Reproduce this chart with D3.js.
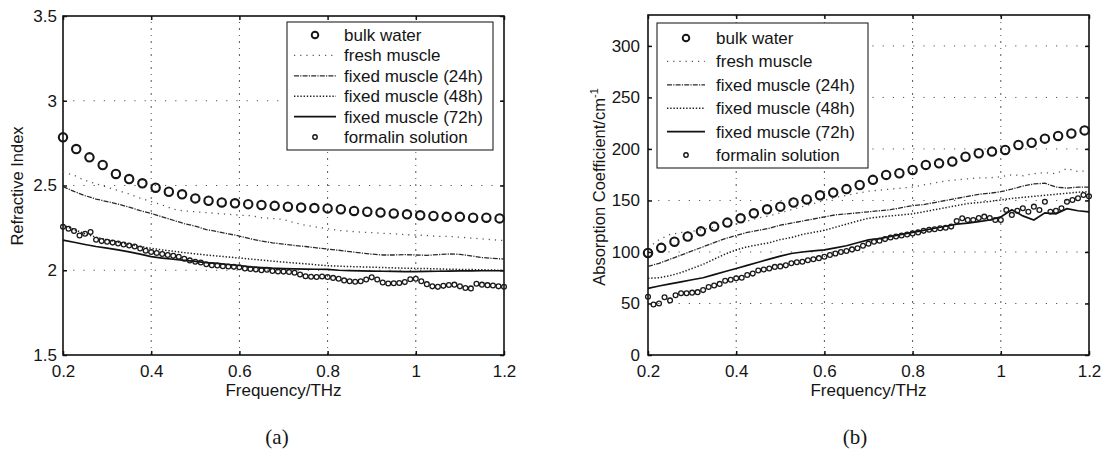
<!DOCTYPE html>
<html><head><meta charset="utf-8">
<script src="https://cdn.jsdelivr.net/npm/d3@7"></script>
<style>
body{margin:0;background:#fff;}
svg text{font-family:"Liberation Sans",Arial,sans-serif;fill:#151515;}
svg text.caption{font-family:"Liberation Serif","Times New Roman",serif;}
</style></head>
<body><svg id="chart" width="1106" height="452"></svg>
<script>
// ---------------- data ----------------
const seriesNames = ["bulk water","fresh muscle","fixed muscle (24h)","fixed muscle (48h)","fixed muscle (72h)","formalin solution"];
const xTicks = [0.2,0.4,0.6,0.8,1.0,1.2];
const xTickLabels = ["0.2","0.4","0.6","0.8","1","1.2"];
const yTicksA = [1.5,2,2.5,3,3.5];
const yTickLabelsA = ["1.5","2","2.5","3","3.5"];
const yTicksB = [0,50,100,150,200,250,300];
const yTickLabelsB = ["0","50","100","150","200","250","300"];

// bulk water: 34 samples from 0.2 to 1.19 THz
const bulkA = [2.784,2.715,2.666,2.621,2.568,2.538,2.513,2.487,2.463,2.448,2.424,2.41,2.40,2.395,2.39,2.385,2.38,2.375,2.37,2.367,2.365,2.36,2.35,2.345,2.34,2.335,2.33,2.324,2.32,2.315,2.315,2.31,2.31,2.306];
const bulkB = [99,104,110,115,120,124.6,128.5,132.7,137.5,141.4,144,148,151,155,157.6,161,165,170,174.8,176.4,179.6,184.5,186,187.7,192.5,195.8,197.4,199,203.9,206,210,212.6,215,218];

// line series: 41 samples from 0.2 to 1.2 THz
const freshA = [2.58,2.56,2.53,2.51,2.49,2.47,2.45,2.425,2.405,2.385,2.36,2.35,2.345,2.34,2.335,2.33,2.325,2.322,2.31,2.305,2.30,2.28,2.265,2.255,2.245,2.235,2.23,2.225,2.222,2.218,2.215,2.21,2.208,2.205,2.20,2.20,2.195,2.19,2.185,2.18,2.175];
const fixed24A = [2.493,2.465,2.44,2.42,2.405,2.39,2.372,2.352,2.335,2.315,2.295,2.275,2.26,2.24,2.228,2.215,2.202,2.185,2.172,2.162,2.154,2.146,2.14,2.132,2.125,2.118,2.11,2.102,2.095,2.09,2.09,2.092,2.09,2.088,2.092,2.096,2.094,2.085,2.075,2.07,2.066];
const fixed48A = [2.267,2.24,2.215,2.195,2.18,2.165,2.152,2.14,2.13,2.12,2.112,2.104,2.097,2.09,2.084,2.078,2.072,2.066,2.06,2.054,2.048,2.043,2.038,2.032,2.027,2.024,2.022,2.02,2.018,2.016,2.014,2.012,2.011,2.01,2.008,2.006,2.005,2.004,2.003,2.001,2.0];
const fixed72A = [2.178,2.165,2.152,2.14,2.13,2.12,2.108,2.095,2.08,2.072,2.065,2.058,2.052,2.045,2.04,2.034,2.028,2.02,2.016,2.012,2.01,2.008,2.007,2.006,2.005,2.0,1.998,1.996,1.995,1.994,1.993,1.992,1.992,1.993,1.994,1.995,1.996,1.996,1.997,1.997,1.997];

const freshB = [104,112,117,119,120,122,124,125,127,130,133,135,138,141,144,147,150,153,155,157,159,160,161,162,163,165,167,169,170,171,172,172,173,175,174,176,177,176,181,178,179];
const fixed24B = [86,89,93,97,101,105,109,113,116,119,121,123,126,128,130,132,134,136,137,138,139,140,141,143,145,146,148,150,152,154,156,157,158.5,161,164,166,166.7,163,162,163,163];
const fixed48B = [74.4,75,77,80,84,88,93,98,102,105,107,109,112,114,117,119,121,124,127,130,132.7,134,135,136,137,139,141,143,145,147,148,149,150.5,152,153,154,155,156,157,158,158.5];
const fixed72B = [64.7,67,69,71,73,75,78,81,84,87,90,93,96,98.5,100,101,102,104,106,109,111.7,113,115,117,119,121,123,125,127,128,129.5,131,134,141,135,131,138,137,142,140,139];

// formalin: 81 samples from 0.2 to 1.2 THz
const formalinA = [2.257,2.245,2.232,2.205,2.215,2.225,2.18,2.172,2.168,2.163,2.158,2.152,2.146,2.14,2.128,2.115,2.108,2.102,2.096,2.09,2.085,2.08,2.068,2.058,2.05,2.046,2.035,2.03,2.028,2.024,2.022,2.02,2.018,2.01,2.008,2.004,2.0,2.003,1.996,1.993,1.992,1.99,1.985,1.975,1.965,1.962,1.96,1.963,1.96,1.955,1.95,1.94,1.935,1.932,1.935,1.945,1.958,1.945,1.928,1.922,1.923,1.925,1.93,1.947,1.95,1.935,1.918,1.905,1.902,1.908,1.913,1.915,1.905,1.895,1.893,1.92,1.915,1.912,1.91,1.905,1.903];
const formalinB = [56.6,49,50,56,53,58,60,60,60.5,61,63,66,67.5,69,72,73,74.4,75,77.7,79,82,83,84,85.5,86,87,89,90,90.5,92,93,94,95.4,97,98.5,100,101,102.5,103.6,106,108,110,111,112.5,114,115,116,117,118,119,120.5,121.5,122,123,123.5,124.6,130,132.7,131,131,133,134.3,133,131,131,140.8,136,140,142.4,139.1,144,140.8,148.8,139.1,140,142.4,148.8,150.5,152.1,155.3,154];

// ---------------- drawing ----------------
const svg = d3.select("#chart");
const sampled = (vals, f0, f1) => vals.map((v,i)=>({f: f0 + (f1-f0)*i/(vals.length-1), v}));

const styles = {
  fresh:  {stroke:"#555", width:1.3, dash:"1.2,5"},
  f24:    {stroke:"#2a2a2a", width:1.3, dash:"5,1.2,1.2,1.2"},
  f48:    {stroke:"#222", width:1.5, dash:"1.4,1.8"},
  f72:    {stroke:"#111", width:1.7, dash:null}
};

function panel(cfg){
  const g = svg.append("g");
  const x = d3.scaleLinear().domain([0.2,1.2]).range([cfg.x0,cfg.x1]);
  const y = d3.scaleLinear().domain(cfg.yDomain).range([cfg.yb,cfg.yt]);

  // grid
  const grid = g.append("g").attr("stroke","#555").attr("stroke-width",1).attr("stroke-dasharray","2,5,1,5");
  grid.selectAll("line.gx").data(xTicks.slice(1,-1)).join("line")
    .attr("x1",d=>x(d)).attr("x2",d=>x(d)).attr("y1",cfg.yb).attr("y2",cfg.yt);
  grid.selectAll("line.gy").data(cfg.yTicks.filter(t=>t>cfg.yDomain[0] && t<cfg.yDomain[1])).join("line")
    .attr("class","gy").attr("y1",d=>y(d)).attr("y2",d=>y(d)).attr("x1",cfg.x0).attr("x2",cfg.x1)
    .attr("stroke-dasharray","1.2,9");

  // axes (ticks inward on all four sides)
  const fmtX = d => xTickLabels[xTicks.indexOf(d)];
  const fmtY = d => cfg.yTickLabels[cfg.yTicks.indexOf(d)];
  const axB = g.append("g").attr("transform",`translate(0,${cfg.yb})`)
    .call(d3.axisBottom(x).tickValues(xTicks).tickFormat(fmtX).tickSizeInner(-4).tickSizeOuter(0).tickPadding(10));
  const axT = g.append("g").attr("transform",`translate(0,${cfg.yt})`)
    .call(d3.axisTop(x).tickValues(xTicks).tickFormat("").tickSizeInner(-4).tickSizeOuter(0));
  const axL = g.append("g").attr("transform",`translate(${cfg.x0},0)`)
    .call(d3.axisLeft(y).tickValues(cfg.yTicks).tickFormat(fmtY).tickSizeInner(-4).tickSizeOuter(0).tickPadding(cfg.ypad));
  const axR = g.append("g").attr("transform",`translate(${cfg.x1},0)`)
    .call(d3.axisRight(y).tickValues(cfg.yTicks).tickFormat("").tickSizeInner(-4).tickSizeOuter(0));
  [axB,axT,axL,axR].forEach(a=>{
    a.select(".domain").remove();
    a.selectAll(".tick line").attr("stroke","#111").attr("stroke-width",1.5);
    a.selectAll("text").attr("font-size",17).attr("fill","#151515");
  });
  g.append("rect").attr("x",cfg.x0).attr("y",cfg.yt).attr("width",cfg.x1-cfg.x0).attr("height",cfg.yb-cfg.yt)
    .attr("fill","none").attr("stroke","#111").attr("stroke-width",1.6);

  // lines
  const line = d3.line().x(d=>x(d.f)).y(d=>y(d.v));
  const drawLine = (vals, st) => g.append("path").datum(sampled(vals,0.2,1.2))
    .attr("d",line).attr("fill","none").attr("stroke",st.stroke).attr("stroke-width",st.width)
    .attr("stroke-dasharray",st.dash);
  drawLine(cfg.fresh, styles.fresh);
  drawLine(cfg.f24, styles.f24);
  drawLine(cfg.f48, styles.f48);
  drawLine(cfg.f72, styles.f72);

  // formalin small circles
  g.append("g").selectAll("circle").data(sampled(cfg.formalin,0.2,1.2)).join("circle")
    .attr("cx",d=>x(d.f)).attr("cy",d=>y(d.v)).attr("r",2.4)
    .attr("fill","none").attr("stroke","#1a1a1a").attr("stroke-width",1.3);
  // bulk water circles
  g.append("g").selectAll("circle").data(sampled(cfg.bulk,0.2,1.19)).join("circle")
    .attr("cx",d=>x(d.f)).attr("cy",d=>y(d.v)).attr("r",4.2)
    .attr("fill","none").attr("stroke","#161616").attr("stroke-width",2.1);

  // legend
  const L = cfg.legend;
  const lg = g.append("g");
  lg.append("rect").attr("x",L.x).attr("y",L.y).attr("width",L.w).attr("height",L.h)
    .attr("fill","#fff").attr("stroke","#222").attr("stroke-width",1.1);
  const kinds = ["bulk","fresh","f24","f48","f72","form"];
  seriesNames.forEach((name,i)=>{
    const yy = L.y + L.first + i*L.step;
    const k = kinds[i];
    if(k==="bulk"){
      lg.append("circle").attr("cx",L.sx).attr("cy",yy).attr("r",3.3).attr("fill","none").attr("stroke","#161616").attr("stroke-width",1.9);
    } else if(k==="form"){
      lg.append("circle").attr("cx",L.sx).attr("cy",yy).attr("r",2.2).attr("fill","none").attr("stroke","#161616").attr("stroke-width",1.4);
    } else {
      const st = styles[k];
      lg.append("line").attr("x1",L.sx-L.half).attr("x2",L.sx+L.half).attr("y1",yy).attr("y2",yy)
        .attr("stroke",st.stroke).attr("stroke-width",st.width).attr("stroke-dasharray",st.dash);
    }
    lg.append("text").attr("x",L.tx).attr("y",yy).attr("dy","0.35em").attr("font-size",17).text(name);
  });

  // axis labels
  g.append("text").attr("x",(cfg.x0+cfg.x1)/2).attr("y",cfg.xlabY).attr("text-anchor","middle")
    .attr("font-size",17).text("Frequency/THz");
  const yl = g.append("text").attr("transform",`translate(${cfg.ylabX},${cfg.ylabY}) rotate(-90)`)
    .attr("text-anchor","middle").attr("font-size",16.5);
  yl.append("tspan").text(cfg.ylabel);
  if(cfg.ysup){ yl.append("tspan").attr("font-size",11).attr("dy","-0.6em").text(cfg.ysup); }

  g.append("text").attr("class","caption").attr("x",cfg.capX).attr("y",444).attr("text-anchor","middle")
    .attr("font-size",21).text(cfg.caption);
}

panel({x0:63,x1:504,yb:355,yt:16,yDomain:[1.5,3.5],yTicks:yTicksA,yTickLabels:yTickLabelsA,ypad:6,
  bulk:bulkA,fresh:freshA,f24:fixed24A,f48:fixed48A,f72:fixed72A,formalin:formalinA,
  legend:{x:287,y:22,w:206,h:128,first:13,step:20.4,sx:315,half:21,tx:344},
  xlabY:396,ylabX:23,ylabY:186,ylabel:"Refractive Index",capX:277,caption:"(a)"});

panel({x0:648,x1:1089,yb:355,yt:15,yDomain:[0,330],yTicks:yTicksB,yTickLabels:yTickLabelsB,ypad:8,
  bulk:bulkB,fresh:freshB,f24:fixed24B,f48:fixed48B,f72:fixed72B,formalin:formalinB,
  legend:{x:657,y:23,w:211,h:145,first:15,step:23.4,sx:686,half:19,tx:716},
  xlabY:396,ylabX:605,ylabY:187,ylabel:"Absorption Coefficient/cm",ysup:"-1",capX:855,caption:"(b)"});
</script></body></html>
